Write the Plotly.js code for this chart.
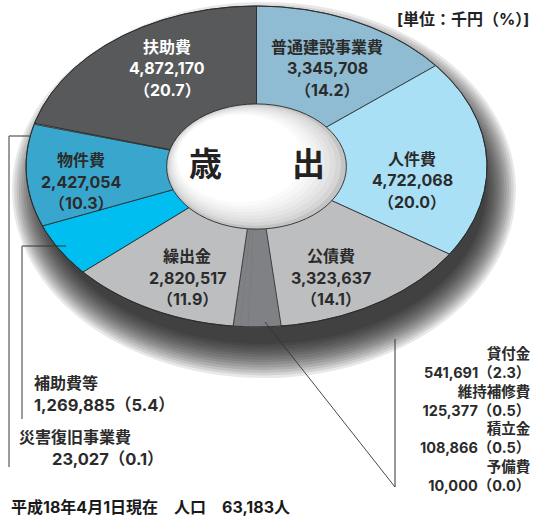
<!DOCTYPE html>
<html><head><meta charset="utf-8">
<script src="https://cdn.plot.ly/plotly-3.0.1.min.js"></script>
<style>html,body{margin:0;padding:0;background:#fff}#chart{width:533px;height:521px}</style>
</head><body><div id="chart"></div>
<script>
// ---- data (clockwise from 12 o'clock) ----
const categories = ['普通建設事業費','人件費','公債費','貸付金','維持補修費','積立金','予備費','繰出金','補助費等','物件費','災害復旧事業費','扶助費'];
const amounts    = [3345708, 4722068, 3323637, 541691, 125377, 108866, 10000, 2820517, 1269885, 2427054, 23027, 4872170];
const percents   = [14.2, 20.0, 14.1, 2.3, 0.5, 0.5, 0.0, 11.9, 5.4, 10.3, 0.1, 20.7];
const unitLabel  = '[単位：千円（%）]';
const footnote   = '平成18年4月1日現在　人口　63,183人';
const centerText = ['歳', '出'];
const insideCats = ['扶助費','普通建設事業費','人件費','物件費','繰出金','公債費'];
const rightCats  = ['貸付金','維持補修費','積立金','予備費'];
const leftCats   = ['補助費等','災害復旧事業費'];

// ---- styles ----
const W = 533, H = 521;
const CX = 256.5, CY = 166.5, RX = 230.5, RY = 160.5; // pie ellipse in px
const HOLE = 0.39;
const FONT = 'Inter,"Noto Sans CJK JP","Noto Sans CJK SC",sans-serif';
const TXT = '#2b2b2b';
const colors = {
  '普通建設事業費':'#8fbcd2','人件費':'#aae0f6','公債費':'#bdbec0',
  '貸付金':'#808184','維持補修費':'#808184','積立金':'#808184','予備費':'#808184',
  '繰出金':'#bdbec0','補助費等':'#00bef0','物件費':'#39a7cd',
  '災害復旧事業費':'#ffffff','扶助費':'#58595b'
};
const labelPos = {
  '扶助費':[167,47,'#ffffff'], '普通建設事業費':[327,47,TXT], '人件費':[412,159,TXT],
  '物件費':[81,160,TXT], '繰出金':[187,256,TXT], '公債費':[331,256,TXT]
};

// helpers px -> data / paper
const dx = p => (p - CX) / RX;
const dy = p => (CY - p) / RY;
const px = p => p / W;
const py = p => 1 - p / H;
const fmt = v => v.toLocaleString('en-US');
const pct = v => '（' + v.toFixed(1) + '）';

// ---- wedges ----
const total = amounts.reduce((a, b) => a + b, 0);
const wedges = [];
let cum = 0;
categories.forEach((c, i) => {
  const f0 = cum / total; cum += amounts[i]; const f1 = cum / total;
  const n = Math.max(2, Math.ceil((f1 - f0) * 720));
  const xs = [0], ys = [0];
  for (let k = 0; k <= n; k++) {
    const a = 2 * Math.PI * (f0 + (f1 - f0) * k / n);
    xs.push(Math.sin(a)); ys.push(Math.cos(a));
  }
  xs.push(0); ys.push(0);
  const small = rightCats.includes(c);
  wedges.push({
    small,
    trace: {type:'scatter', mode:'lines', x:xs, y:ys, fill:'toself', fillcolor:colors[c],
      line:{color: small ? colors[c] : '#2a2a2a', width: small ? 0.5 : 0.8},
      hoverinfo:'skip', showlegend:false, name:c}
  });
});
const traces = wedges.filter(w => w.small).map(w => w.trace)
  .concat(wedges.filter(w => !w.small).map(w => w.trace));
// rim outline
const rx = [], ry = [];
for (let k = 0; k <= 720; k++) { const a = 2*Math.PI*k/720; rx.push(Math.sin(a)); ry.push(Math.cos(a)); }
traces.push({type:'scatter', mode:'lines', x:rx, y:ry, line:{color:'#2a2a2a', width:0.9}, hoverinfo:'skip', showlegend:false});

// ---- shapes ----
const shapes = [];
// soft shadow under pie
const NS = 14;
for (let k = 0; k < NS; k++) {
  const t = k / (NS - 1);
  const sx = 252 - 30 * t, sy = 188 - 34 * t, scx = 264, scy = 190;
  shapes.push({type:'circle', layer:'below', xref:'x', yref:'y',
    x0:dx(scx - sx), x1:dx(scx + sx), y0:dy(scy + sy), y1:dy(scy - sy),
    fillcolor:'rgba(0,0,0,0.09)', line:{width:0}});
}
// hole with metallic-ish gradient
const NH = 9;
for (let k = 0; k < NH; k++) {
  const t = k / (NH - 1);
  const f = HOLE * (1 - 0.3 * t);
  const ox = -0.07 * t, oy = 0.05 * t;
  const g = Math.round(196 + 59 * Math.pow(t, 0.6));
  shapes.push({type:'circle', layer:'above', xref:'x', yref:'y',
    x0:ox - f, x1:ox + f, y0:oy - f, y1:oy + f,
    fillcolor:`rgb(${g},${g},${g})`, line:{width:0}});
}
shapes.push({type:'circle', layer:'above', xref:'x', yref:'y',
  x0:-HOLE, x1:HOLE, y0:-HOLE, y1:HOLE, fillcolor:'rgba(0,0,0,0)', line:{color:'#2a2a2a', width:0.9}});
// leader lines
const seg = (x0,y0,x1,y1,c,w) => shapes.push({type:'line', layer:'above', xref:'x', yref:'y',
  x0:dx(x0), y0:dy(y0), x1:dx(x1), y1:dy(y1), line:{color:c, width:w}});
seg(265,322,395,487,'#333',0.9);
seg(395,339,395,487,'#333',1);
seg(9,136,31,136,'#333',1);
seg(9,136,9,467,'#666',1.3);
seg(22,246,66,246,'#333',1);
seg(22,246,22,419,'#666',1.3);

// ---- annotations ----
const ann = [];
const addT = (text, x, y, anchor, size, color, weight, align) => ann.push({
  text, x:px(x), y:py(y), xref:'paper', yref:'paper', xanchor:anchor, yanchor:'middle',
  align: align || anchor, showarrow:false, font:{family:FONT, size, color, weight}});
insideCats.forEach(c => {
  const i = categories.indexOf(c); const [x, y, col] = labelPos[c];
  [c, fmt(amounts[i]), pct(percents[i])].forEach((s, j) => addT(s, x, y + j * 21.5, 'center', 16, col, 'bold'));
});
// left outside labels
{
  let i = categories.indexOf(leftCats[0]);
  addT(leftCats[0], 32, 383, 'left', 16, TXT, 'bold');
  addT(fmt(amounts[i]) + pct(percents[i]), 32, 405, 'left', 16.5, TXT, 'bold');
  i = categories.indexOf(leftCats[1]);
  addT(leftCats[1], 17, 437, 'left', 16, TXT, 'bold');
  addT(fmt(amounts[i]) + pct(percents[i]), 50, 459, 'left', 16.5, TXT, 'bold');
}
// right outside labels (one block, right aligned)
{
  const lines = [];
  rightCats.forEach(c => {
    const i = categories.indexOf(c);
    lines.push(c, fmt(amounts[i]) + pct(percents[i]));
  });
  addT(lines.join('<br>'), 533, 419, 'right', 14.5, TXT, 'bold', 'right');
}
addT(centerText[0], 205, 164, 'center', 33, '#222', 'bold');
addT(centerText[1], 308, 164, 'center', 33, '#222', 'bold');
addT(unitLabel, 531, 19, 'right', 16, '#222', 'bold');
addT(footnote, 9, 507, 'left', 16, '#1a1a1a', 'bold');

const layout = {
  width:W, height:H, margin:{l:0, r:0, t:0, b:0, pad:0},
  paper_bgcolor:'#fff', plot_bgcolor:'#fff', showlegend:false,
  xaxis:{range:[dx(0), dx(W)], visible:false, fixedrange:true},
  yaxis:{range:[dy(H), dy(0)], visible:false, fixedrange:true},
  shapes, annotations:ann
};
Plotly.newPlot('chart', traces, layout, {staticPlot:true, displayModeBar:false});
</script></body></html>
